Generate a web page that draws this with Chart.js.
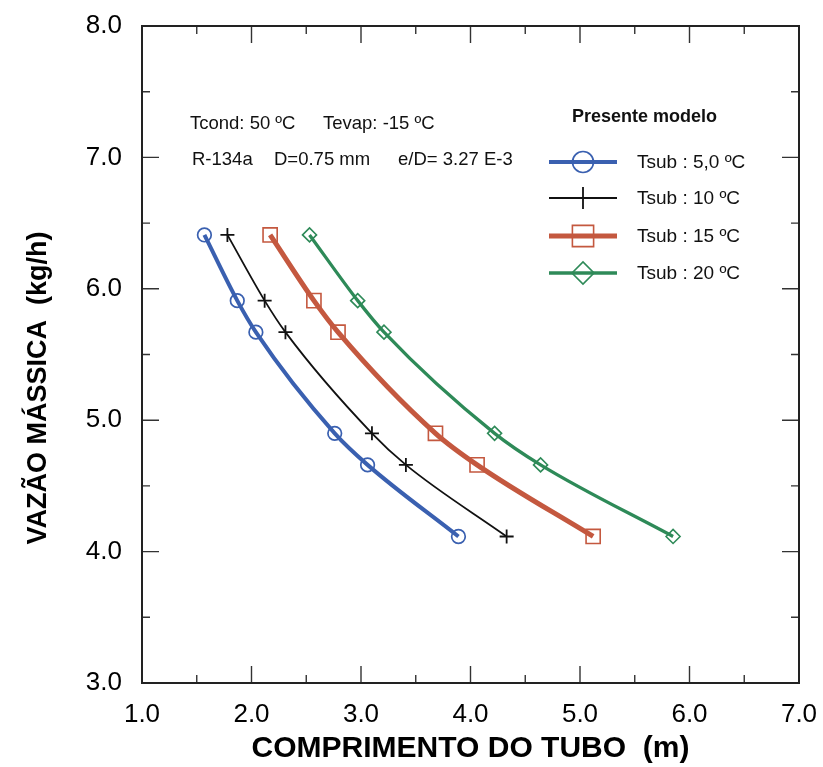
<!DOCTYPE html>
<html>
<head>
<meta charset="utf-8">
<script src="https://cdn.jsdelivr.net/npm/chart.js@4"></script>
<style>
  html, body { margin: 0; padding: 0; background: #fff; }
  #wrap { width: 823px; height: 767px; }
</style>
</head>
<body>
<div id="wrap"><canvas id="c" width="823" height="767"></canvas></div>
<script>
// Mass flow rate (kg/h) shared by every curve
const massFlow = [6.41, 5.91, 5.67, 4.90, 4.66, 4.115];

// Tube length (m) for each subcooling level
const lengthT5  = [1.57, 1.87, 2.04, 2.76, 3.06, 3.89];
const lengthT10 = [1.78, 2.12, 2.31, 3.10, 3.41, 4.33];
const lengthT15 = [2.17, 2.57, 2.79, 3.68, 4.06, 5.12];
const lengthT20 = [2.53, 2.97, 3.21, 4.22, 4.64, 5.85];

const seriesLabels = ['Tsub : 5,0 ºC', 'Tsub : 10 ºC', 'Tsub : 15 ºC', 'Tsub : 20 ºC'];
const xTickValues = [1, 2, 3, 4, 5, 6, 7];
const yTickValues = [3, 4, 5, 6, 7, 8];

const infoLine1 = ['Tcond: 50 ºC', 'Tevap: -15 ºC'];
const infoLine2 = ['R-134a', 'D=0.75 mm', 'e/D= 3.27 E-3'];
const legendTitle = 'Presente modelo';
const xTitle = 'COMPRIMENTO DO TUBO  (m)';
const yTitle = 'VAZÃO MÁSSICA  (kg/h)';

const FONT = '"Liberation Sans", Arial, Helvetica, sans-serif';

const toPoints = xs => xs.map((x, i) => ({ x: x, y: massFlow[i] }));

const datasets = [
  { label: seriesLabels[0], data: toPoints(lengthT5), borderColor: '#3a60b0', borderWidth: 4,
    pointStyle: 'circle', pointRadius: 6.8, legendRadius: 10.5, pointBorderWidth: 1.7 },
  { label: seriesLabels[1], data: toPoints(lengthT10), borderColor: '#111111', borderWidth: 1.8,
    pointStyle: 'cross', pointRadius: 7, legendRadius: 11, pointBorderWidth: 1.8 },
  { label: seriesLabels[2], data: toPoints(lengthT15), borderColor: '#c4583f', borderWidth: 5,
    pointStyle: 'rect', pointRadius: 10, legendRadius: 15, pointBorderWidth: 1.6 },
  { label: seriesLabels[3], data: toPoints(lengthT20), borderColor: '#2e8a58', borderWidth: 3.3,
    pointStyle: 'rectRot', pointRadius: 7, legendRadius: 11, pointBorderWidth: 1.6 }
].map(d => Object.assign({
  backgroundColor: 'rgba(255,255,255,0)',
  pointBackgroundColor: 'rgba(255,255,255,0)',
  pointBorderColor: d.borderColor,
  cubicInterpolationMode: 'monotone',
  fill: false
}, d));

// Frame with inward major/minor ticks on all four sides
const framePlugin = {
  id: 'frame',
  afterDatasetsDraw(chart) {
    const { ctx, chartArea: a, scales } = chart;
    const xs = scales.x, ys = scales.y;
    ctx.save();
    ctx.strokeStyle = '#333';
    ctx.lineWidth = 1.4;
    const major = 17, minor = 8;
    for (let v = 1; v <= 7.001; v += 0.5) {
      const px = xs.getPixelForValue(v);
      const len = Math.abs(v - Math.round(v)) < 1e-6 ? major : minor;
      ctx.beginPath();
      ctx.moveTo(px, a.bottom); ctx.lineTo(px, a.bottom - len);
      ctx.moveTo(px, a.top); ctx.lineTo(px, a.top + len);
      ctx.stroke();
    }
    for (let v = 3; v <= 8.001; v += 0.5) {
      const py = ys.getPixelForValue(v);
      const len = Math.abs(v - Math.round(v)) < 1e-6 ? major : minor;
      ctx.beginPath();
      ctx.moveTo(a.left, py); ctx.lineTo(a.left + len, py);
      ctx.moveTo(a.right, py); ctx.lineTo(a.right - len, py);
      ctx.stroke();
    }
    ctx.strokeStyle = '#222';
    ctx.lineWidth = 2;
    ctx.strokeRect(a.left, a.top, a.right - a.left, a.bottom - a.top);
    ctx.restore();
  }
};

// Parameter notes, legend block and axis titles
const notesPlugin = {
  id: 'notes',
  afterDraw(chart) {
    const { ctx, chartArea: a } = chart;
    ctx.save();
    ctx.fillStyle = '#111';
    ctx.textBaseline = 'middle';
    ctx.textAlign = 'left';
    ctx.font = '18.5px ' + FONT;
    ctx.fillText(infoLine1[0], 190, 124);
    ctx.fillText(infoLine1[1], 323, 124);
    ctx.fillText(infoLine2[0], 192, 160);
    ctx.fillText(infoLine2[1], 274, 160);
    ctx.fillText(infoLine2[2], 398, 160);

    // legend
    ctx.font = 'bold 18px ' + FONT;
    ctx.fillText(legendTitle, 572, 117);
    const rows = [162, 198, 236, 273];
    chart.data.datasets.forEach((ds, i) => {
      const y = rows[i];
      ctx.strokeStyle = ds.borderColor;
      ctx.lineWidth = ds.borderWidth;
      ctx.beginPath();
      ctx.moveTo(549, y); ctx.lineTo(617, y);
      ctx.stroke();
      ctx.lineWidth = ds.pointBorderWidth;
      ctx.fillStyle = 'rgba(255,255,255,0)';
      Chart.helpers.drawPoint(ctx, {
        pointStyle: ds.pointStyle, rotation: 0,
        radius: ds.legendRadius, borderWidth: ds.pointBorderWidth
      }, 583, y);
      ctx.fillStyle = '#111';
      ctx.font = '19px ' + FONT;
      ctx.fillText(ds.label, 637, y + 1);
    });

    // axis titles
    ctx.fillStyle = '#000';
    ctx.textAlign = 'center';
    ctx.font = 'bold 30px ' + FONT;
    ctx.fillText(xTitle, (a.left + a.right) / 2, 749);
    ctx.translate(39, 388);
    ctx.rotate(-Math.PI / 2);
    ctx.font = 'bold 27px ' + FONT;
    ctx.fillText(yTitle, 0, 0);
    ctx.restore();
  }
};

new Chart(document.getElementById('c'), {
  type: 'line',
  data: { datasets },
  plugins: [framePlugin, notesPlugin],
  options: {
    responsive: false,
    animation: false,
    devicePixelRatio: 1,
    layout: { padding: { top: 26, right: 24, left: 0, bottom: 0 } },
    plugins: { legend: { display: false }, tooltip: { enabled: false } },
    elements: { line: { tension: 0.4 } },
    scales: {
      x: {
        type: 'linear', min: 1, max: 7,
        afterBuildTicks: s => { s.ticks = xTickValues.map(v => ({ value: v })); },
        afterFit: s => { s.height = 84; s.paddingLeft = 0; s.paddingRight = 0; },
        grid: { display: false, drawTicks: false },
        border: { display: false },
        ticks: {
          padding: 16, color: '#000',
          font: { family: FONT, size: 26 },
          callback: v => v.toFixed(1)
        }
      },
      y: {
        type: 'linear', min: 3, max: 8,
        afterBuildTicks: s => { s.ticks = yTickValues.map(v => ({ value: v })); },
        afterFit: s => { s.width = 142; s.paddingTop = 0; s.paddingBottom = 0; },
        grid: { display: false, drawTicks: false },
        border: { display: false },
        ticks: {
          padding: 20, color: '#000',
          font: { family: FONT, size: 26 },
          callback: v => v.toFixed(1)
        }
      }
    }
  }
});
</script>
</body>
</html>
